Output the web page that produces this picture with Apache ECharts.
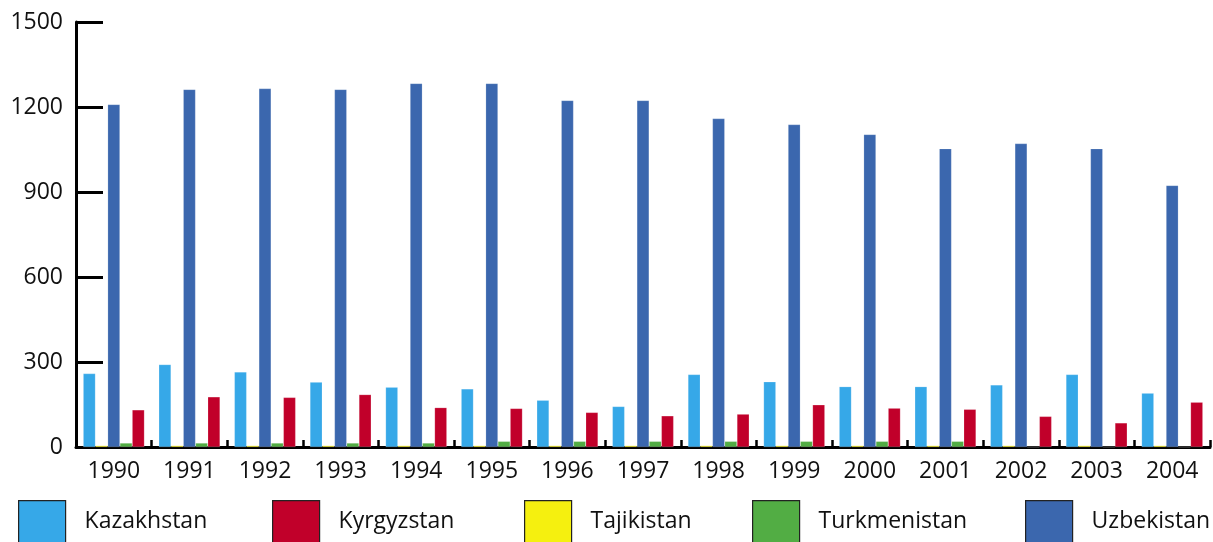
<!DOCTYPE html>
<html>
<head>
<meta charset="utf-8">
<script src="https://cdn.jsdelivr.net/npm/echarts@6/dist/echarts.min.js"></script>
<style>html,body{margin:0;padding:0;background:#fff;}#c{width:1213px;height:542px;}</style>
</head>
<body>
<div id="c"></div>
<script>
const years = ['1990','1991','1992','1993','1994','1995','1996','1997','1998','1999','2000','2001','2002','2003','2004'];
const kazakhstan   = [259, 291, 265, 229, 211, 205, 165, 143, 256, 230, 213, 213, 219, 256, 190];
const kyrgyzstan   = [131, 177, 175, 185, 139, 136, 122, 110, 116, 149, 137, 133, 108, 85, 158];
const tajikistan   = [5, 5, 5, 5, 5, 5, 5, 5, 5, 5, 5, 5, 5, 5, 5];
const turkmenistan = [14, 14, 14, 14, 14, 20, 20, 20, 20, 20, 20, 20, 0, 0, 0];
const uzbekistan   = [1209, 1262, 1265, 1262, 1283, 1283, 1223, 1223, 1159, 1138, 1103, 1053, 1071, 1053, 923];
const yTicks = [0, 300, 600, 900, 1200, 1500];
const legendNames = ['Kazakhstan', 'Kyrgyzstan', 'Tajikistan', 'Turkmenistan', 'Uzbekistan'];

const colors = {
  Kazakhstan: '#36a8e8',
  Kyrgyzstan: '#c1002a',
  Tajikistan: '#f5f00f',
  Turkmenistan: '#52ad44',
  Uzbekistan: '#3b67ae'
};
const legendLeft = [18, 272, 524, 752, 1025];
const font = '"Open Sans", sans-serif';

function bar(name, data) {
  return {
    name: name, type: 'bar', data: data,
    barGap: '0%', barCategoryGap: '19%',
    itemStyle: { color: colors[name], borderColor: 'rgba(255,255,255,0.35)', borderWidth: 0.5 }
  };
}

const legends = legendNames.map(function (n, i) {
  return {
    data: [n],
    left: legendLeft[i], top: 500, padding: 0,
    itemWidth: 47, itemHeight: 42,
    icon: 'rect',
    selectedMode: false,
    itemStyle: { borderColor: '#222', borderWidth: 1.2 },
    textStyle: { fontFamily: font, fontSize: 23, color: '#111', padding: [0, 0, 0, 14] }
  };
});

const chart = echarts.init(document.getElementById('c'), null, {renderer: 'canvas'});
chart.setOption({
  animation: false,
  backgroundColor: '#fff',
  grid: { left: 76, right: 3, top: 22, bottom: 95, containLabel: false },
  legend: legends,
  xAxis: {
    type: 'category', data: years,
    axisLine: { lineStyle: { color: '#000', width: 3 } },
    axisTick: { show: true, inside: true, length: 7, lineStyle: { color: '#000', width: 2.5 } },
    axisLabel: { fontFamily: font, fontSize: 23, color: '#111', margin: 13 },
    splitLine: { show: false }
  },
  yAxis: {
    type: 'value', min: yTicks[0], max: yTicks[yTicks.length - 1], interval: 300,
    axisLine: { show: true, lineStyle: { color: '#000', width: 3 } },
    axisTick: { show: true, inside: true, length: 27, lineStyle: { color: '#000', width: 3 } },
    axisLabel: { fontFamily: font, fontSize: 23, color: '#111', margin: 13, formatter: function (v) { return String(v); } },
    splitLine: { show: false }
  },
  series: [
    bar('Kazakhstan', kazakhstan),
    bar('Tajikistan', tajikistan),
    bar('Uzbekistan', uzbekistan),
    bar('Turkmenistan', turkmenistan),
    bar('Kyrgyzstan', kyrgyzstan)
  ]
});
</script>
</body>
</html>
